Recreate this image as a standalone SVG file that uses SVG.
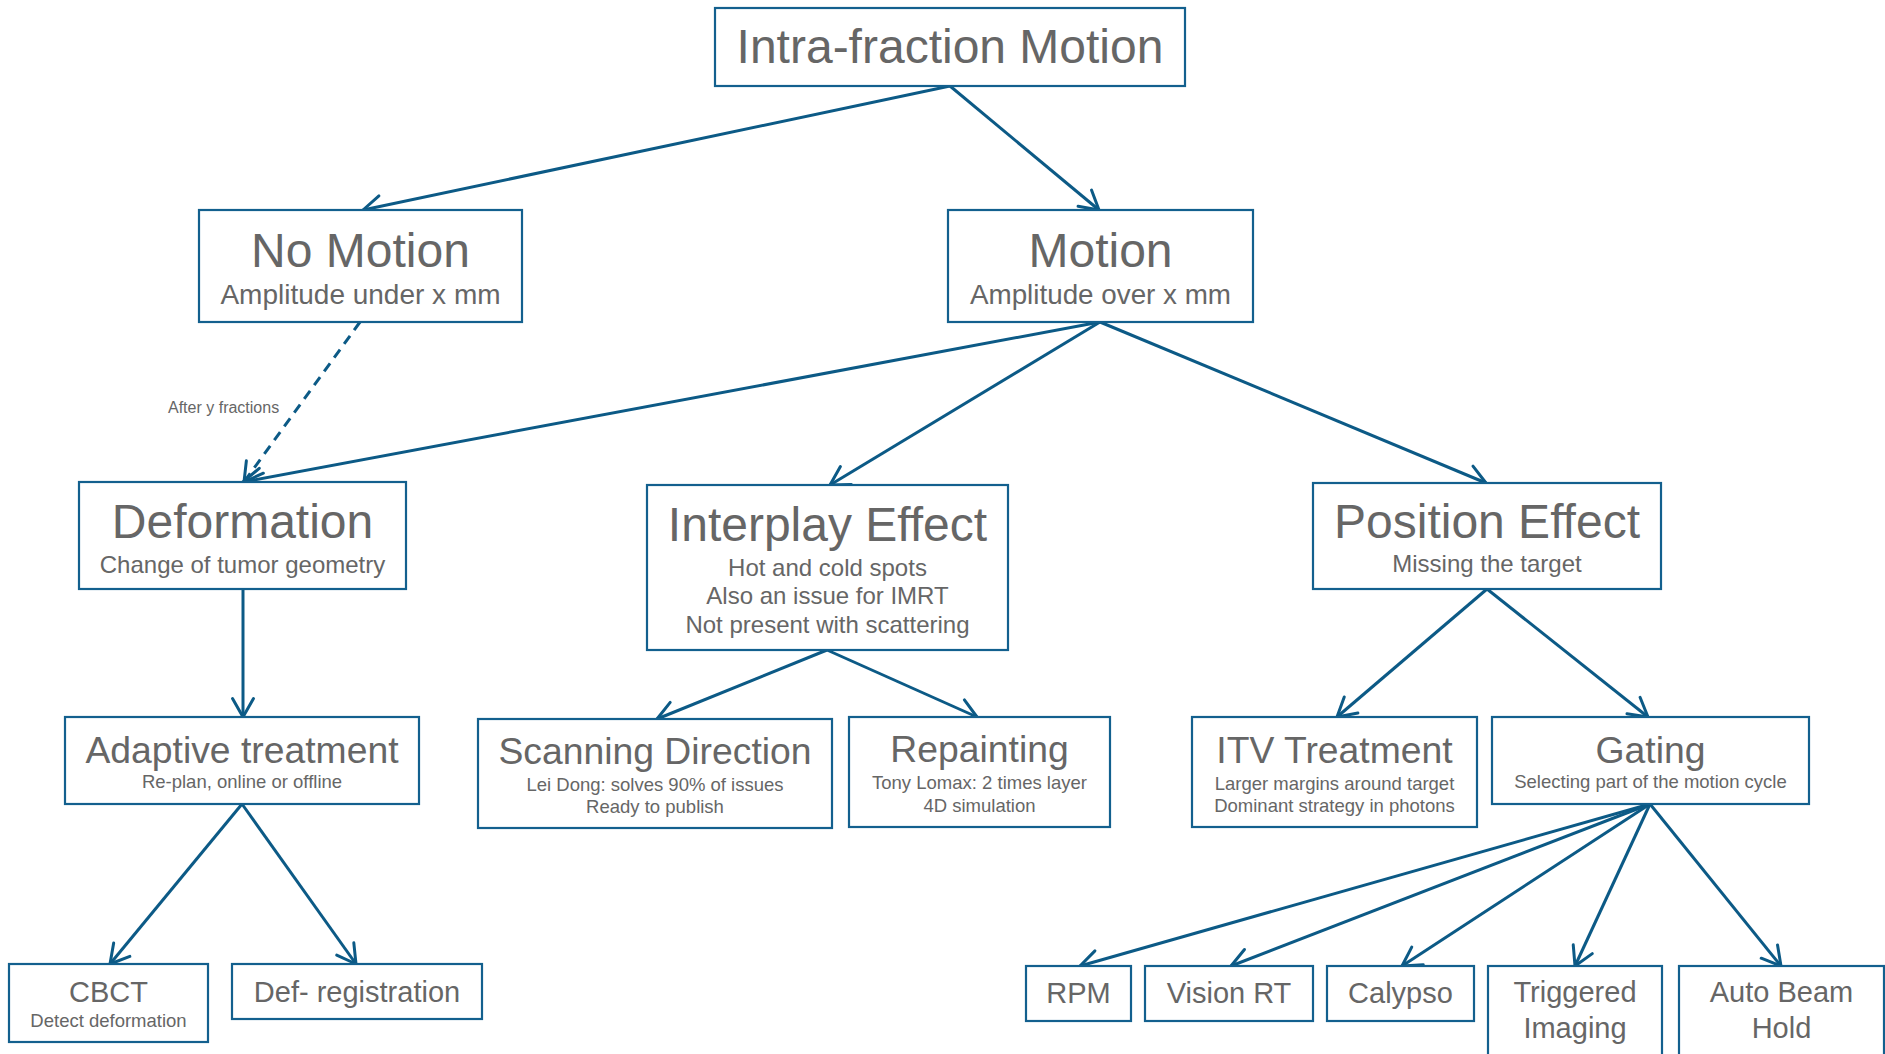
<svg xmlns="http://www.w3.org/2000/svg" width="1885" height="1054" viewBox="0 0 1885 1054">
<style>
.box{fill:#ffffff;stroke:#13608e;stroke-width:2.2}
.t{font-family:"Liberation Sans",Arial,sans-serif;fill:#666666;text-anchor:middle}
.conn{fill:none;stroke:#0c5a86;stroke-width:3;marker-end:url(#arr)}
.dash{stroke-dasharray:10 7}
</style>
<defs>
<marker id="arr" markerUnits="userSpaceOnUse" markerWidth="28" markerHeight="28" viewBox="0 0 28 28" refX="22" refY="14" orient="auto">
<path d="M3.5,3.5 L22,14 L3.5,24.5" fill="none" stroke="#0c5a86" stroke-width="3" stroke-linecap="round" stroke-linejoin="round"/>
</marker>
</defs>
<rect width="1885" height="1054" fill="#ffffff"/>
<g id="connectors">
<line class="conn" x1="950" y1="86" x2="363" y2="210"/>
<line class="conn" x1="950" y1="86" x2="1099" y2="210"/>
<line class="conn dash" x1="360" y1="322" x2="244" y2="482"/>
<line class="conn" x1="1100" y1="322" x2="243" y2="482"/>
<line class="conn" x1="1100" y1="322" x2="830" y2="485"/>
<line class="conn" x1="1100" y1="322" x2="1486" y2="483"/>
<line class="conn" x1="243" y1="589" x2="243" y2="717"/>
<line class="conn" x1="827" y1="650" x2="657" y2="719"/>
<line class="conn" x1="827" y1="650" x2="977" y2="717"/>
<line class="conn" x1="1487" y1="589" x2="1337" y2="717"/>
<line class="conn" x1="1487" y1="589" x2="1648" y2="717"/>
<line class="conn" x1="242" y1="804" x2="110" y2="964"/>
<line class="conn" x1="242" y1="804" x2="356" y2="964"/>
<line class="conn" x1="1650" y1="804" x2="1080" y2="966"/>
<line class="conn" x1="1650" y1="804" x2="1231" y2="966"/>
<line class="conn" x1="1650" y1="804" x2="1402" y2="966"/>
<line class="conn" x1="1650" y1="804" x2="1575" y2="966"/>
<line class="conn" x1="1650" y1="804" x2="1781" y2="966"/>
<text class="t" x="168" y="413" font-size="16" style="text-anchor:start">After y fractions</text>
</g>
<g id="n_intra">
<rect class="box" x="715" y="8" width="470" height="78"/>
<text class="t" x="950" y="63" font-size="48">Intra-fraction Motion</text>
</g>
<g id="n_nomotion">
<rect class="box" x="199" y="210" width="323" height="112"/>
<text class="t" x="360.5" y="267" font-size="48">No Motion</text>
<text class="t" x="360.5" y="304" font-size="28">Amplitude under x mm</text>
</g>
<g id="n_motion">
<rect class="box" x="948" y="210" width="305" height="112"/>
<text class="t" x="1100.5" y="267" font-size="48">Motion</text>
<text class="t" x="1100.5" y="304" font-size="27.8">Amplitude over x mm</text>
</g>
<g id="n_deformation">
<rect class="box" x="79" y="482" width="327" height="107"/>
<text class="t" x="242.5" y="538" font-size="48">Deformation</text>
<text class="t" x="242.5" y="573" font-size="24">Change of tumor geometry</text>
</g>
<g id="n_interplay">
<rect class="box" x="647" y="485" width="361" height="165"/>
<text class="t" x="827.5" y="541" font-size="48">Interplay Effect</text>
<text class="t" x="827.5" y="576" font-size="24">Hot and cold spots</text>
<text class="t" x="827.5" y="604" font-size="24">Also an issue for IMRT</text>
<text class="t" x="827.5" y="633" font-size="24">Not present with scattering</text>
</g>
<g id="n_position">
<rect class="box" x="1313" y="483" width="348" height="106"/>
<text class="t" x="1487" y="538" font-size="48">Position Effect</text>
<text class="t" x="1487" y="572" font-size="24">Missing the target</text>
</g>
<g id="n_adaptive">
<rect class="box" x="65" y="717" width="354" height="87"/>
<text class="t" x="242" y="763" font-size="37.3">Adaptive treatment</text>
<text class="t" x="242" y="788" font-size="18.5">Re-plan, online or offline</text>
</g>
<g id="n_scanning">
<rect class="box" x="478" y="719" width="354" height="109"/>
<text class="t" x="655" y="764" font-size="37.3">Scanning Direction</text>
<text class="t" x="655" y="791" font-size="18.5">Lei Dong: solves 90% of issues</text>
<text class="t" x="655" y="813" font-size="18.5">Ready to publish</text>
</g>
<g id="n_repainting">
<rect class="box" x="849" y="717" width="261" height="110"/>
<text class="t" x="979.5" y="762" font-size="37.3">Repainting</text>
<text class="t" x="979.5" y="789" font-size="18.5">Tony Lomax: 2 times layer</text>
<text class="t" x="979.5" y="812" font-size="18.5">4D simulation</text>
</g>
<g id="n_itv">
<rect class="box" x="1192" y="717" width="285" height="110"/>
<text class="t" x="1334.5" y="763" font-size="37.3">ITV Treatment</text>
<text class="t" x="1334.5" y="790" font-size="18.5">Larger margins around target</text>
<text class="t" x="1334.5" y="812" font-size="18.5">Dominant strategy in photons</text>
</g>
<g id="n_gating">
<rect class="box" x="1492" y="717" width="317" height="87"/>
<text class="t" x="1650.5" y="763" font-size="37.3">Gating</text>
<text class="t" x="1650.5" y="788" font-size="18.5">Selecting part of the motion cycle</text>
</g>
<g id="n_cbct">
<rect class="box" x="9" y="964" width="199" height="78"/>
<text class="t" x="108.5" y="1002" font-size="29">CBCT</text>
<text class="t" x="108.5" y="1027" font-size="18.5">Detect deformation</text>
</g>
<g id="n_defreg">
<rect class="box" x="232" y="964" width="250" height="55"/>
<text class="t" x="357" y="1002" font-size="29">Def- registration</text>
</g>
<g id="n_rpm">
<rect class="box" x="1026" y="966" width="105" height="55"/>
<text class="t" x="1078.5" y="1003" font-size="29">RPM</text>
</g>
<g id="n_vision">
<rect class="box" x="1145" y="966" width="168" height="55"/>
<text class="t" x="1229" y="1003" font-size="29">Vision RT</text>
</g>
<g id="n_calypso">
<rect class="box" x="1327" y="966" width="147" height="55"/>
<text class="t" x="1400.5" y="1003" font-size="29">Calypso</text>
</g>
<g id="n_triggered">
<rect class="box" x="1488" y="966" width="174" height="110"/>
<text class="t" x="1575" y="1002" font-size="29">Triggered</text>
<text class="t" x="1575" y="1038" font-size="29">Imaging</text>
</g>
<g id="n_autobeam">
<rect class="box" x="1679" y="966" width="205" height="110"/>
<text class="t" x="1781.5" y="1002" font-size="29">Auto Beam</text>
<text class="t" x="1781.5" y="1038" font-size="29">Hold</text>
</g>
</svg>
